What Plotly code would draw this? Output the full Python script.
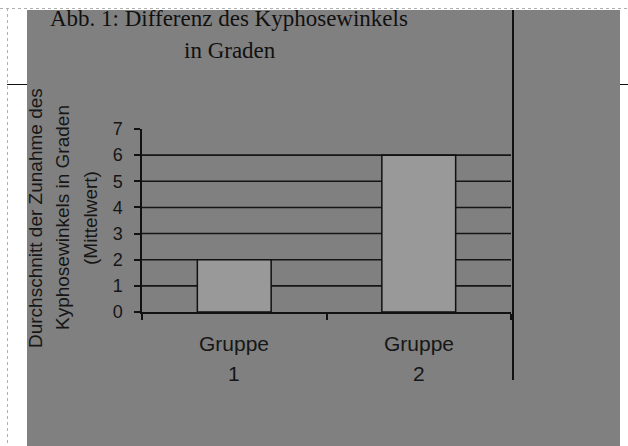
import plotly.graph_objects as go

# ---- data ----
categories = ["Gruppe 1", "Gruppe 2"]
values = [2, 6]
y_ticks = [0, 1, 2, 3, 4, 5, 6, 7]
grid_vals = [1, 2, 3, 4, 5, 6]
title_lines = ["Abb. 1: Differenz des Kyphosewinkels", "in Graden"]
ytitle_lines = ["Durchschnitt der Zunahme des", "Kyphosewinkels in Graden", "(Mittelwert)"]

W, H = 628, 446
L, R, T, B = 142, 511, 129, 312  # plot area in pixels


def px2x(px):
    return (px - L) / (R - L)


def py2y(py):
    return (B - py) / (B - T)


SANS = "Liberation Sans, Arial, sans-serif"
SERIF = "Liberation Serif, Times New Roman, serif"
TXT = "#161616"

fig = go.Figure()
fig.add_trace(go.Bar(
    x=categories, y=values,
    marker=dict(color="#999999", line=dict(color="#111111", width=1.5)),
    width=0.4, hoverinfo="skip",
))

shapes = []
shapes.append(dict(type="rect", xref="paper", yref="paper",
                   x0=px2x(27), x1=px2x(620), y0=py2y(446), y1=py2y(10),
                   fillcolor="#808080", line=dict(width=0), layer="below"))
shapes.append(dict(type="line", xref="paper", yref="paper",
                   x0=px2x(0), x1=px2x(628), y0=py2y(8.5), y1=py2y(8.5),
                   line=dict(color="#b0b0b0", width=1, dash="dot"), layer="above"))
shapes.append(dict(type="line", xref="paper", yref="paper",
                   x0=px2x(7.5), x1=px2x(7.5), y0=py2y(8), y1=py2y(446),
                   line=dict(color="#b0b0b0", width=1, dash="dot"), layer="above"))
shapes.append(dict(type="line", xref="paper", yref="paper",
                   x0=px2x(7), x1=px2x(27), y0=py2y(84.5), y1=py2y(84.5),
                   line=dict(color="#111111", width=1), layer="above"))
shapes.append(dict(type="line", xref="paper", yref="paper",
                   x0=px2x(620), x1=px2x(628), y0=py2y(84.5), y1=py2y(84.5),
                   line=dict(color="#111111", width=1), layer="above"))
shapes.append(dict(type="line", xref="paper", yref="paper",
                   x0=px2x(513), x1=px2x(513), y0=py2y(10), y1=py2y(380),
                   line=dict(color="#111111", width=2), layer="above"))
for g in grid_vals:
    shapes.append(dict(type="line", xref="x domain", yref="y",
                       x0=0, x1=1, y0=g, y1=g,
                       line=dict(color="#151515", width=1.6), layer="below"))

annotations = []
annotations.append(dict(text=title_lines[0], xref="paper", yref="paper",
                        x=px2x(229), y=py2y(18), xanchor="center", yanchor="middle",
                        showarrow=False,
                        font=dict(family=SERIF, size=23, color="#111111")))
annotations.append(dict(text=title_lines[1], xref="paper", yref="paper",
                        x=px2x(230), y=py2y(50), xanchor="center", yanchor="middle",
                        showarrow=False,
                        font=dict(family=SERIF, size=23, color="#111111")))
for xc, line in zip([35, 62, 90], ytitle_lines):
    annotations.append(dict(text=line, xref="paper", yref="paper",
                            x=px2x(xc), y=py2y(218), xanchor="center", yanchor="middle",
                            showarrow=False, textangle=-90,
                            font=dict(family=SANS, size=19, color=TXT)))
for cat in categories:
    word, num = cat.split(" ")
    annotations.append(dict(text=word, xref="x", yref="paper", x=cat, y=py2y(343),
                            xanchor="center", yanchor="middle",
                            showarrow=False, font=dict(family=SANS, size=21, color=TXT)))
    annotations.append(dict(text=num, xref="x", yref="paper", x=cat, y=py2y(373),
                            xanchor="center", yanchor="middle",
                            showarrow=False, font=dict(family=SANS, size=21, color=TXT)))

fig.update_layout(
    width=W, height=H,
    margin=dict(l=L, r=W - R, t=T, b=H - B, pad=0),
    paper_bgcolor="white",
    plot_bgcolor="#e4e4e4",
    showlegend=False,
    bargap=0.6,
    shapes=shapes,
    annotations=annotations,
    xaxis=dict(type="category", tickson="boundaries", ticks="outside", ticklen=6,
               tickcolor="#111111", tickwidth=1.5, showticklabels=False,
               showline=True, linecolor="#111111", linewidth=1.5, showgrid=False,
               range=[-0.5, 1.5]),
    yaxis=dict(range=[0, 7], tickvals=y_ticks, ticks="outside", ticklen=6,
               tickcolor="#111111", tickwidth=1.5, showline=True,
               linecolor="#111111", linewidth=1.5, showgrid=False, zeroline=False,
               ticklabelstandoff=8,
               tickfont=dict(family=SANS, size=18, color=TXT)),
)

fig.write_html("out.html", config={"displayModeBar": False},
               post_script="document.body.style.margin='0';document.body.style.overflow='hidden';")
